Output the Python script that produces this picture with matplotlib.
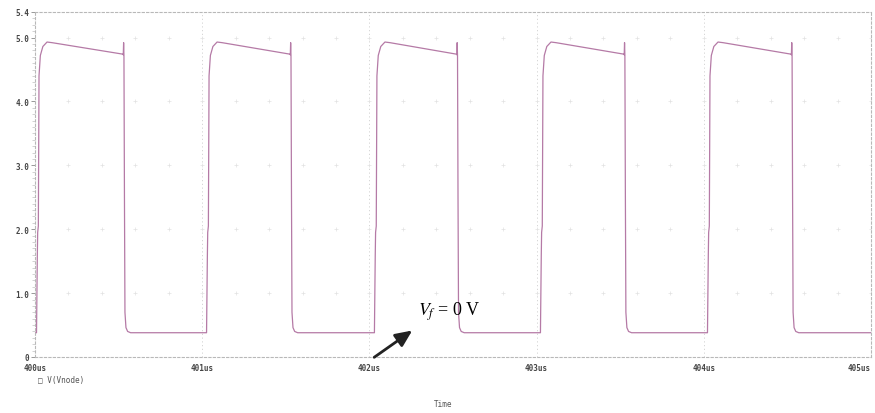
import numpy as np
import matplotlib.pyplot as plt

# pulse edges (us)
rise_times = [400.012, 401.029, 402.033, 403.026, 404.025]
fall_times = [400.532, 401.531, 402.527, 403.528, 404.528]

# shape of one pulse, relative to its rise edge / fall edge
rise_offsets = [-0.003, 0.002, 0.004, 0.008, 0.012, 0.02, 0.035, 0.06, 0.09]
rise_volts = [0.38, 1.6, 1.95, 2.05, 4.4, 4.72, 4.86, 4.93, 4.92]
fall_offsets = [-0.006, -0.004, -0.002, 0.0, 0.003, 0.006, 0.012, 0.022, 0.04]
fall_volts = [4.74, 4.73, 4.92, 4.72, 2.5, 0.7, 0.46, 0.40, 0.38]
t_start, t_end = 400.0, 405.0
low_level = 0.38

y_ticks = [0, 1.0, 2.0, 3.0, 4.0, 5.0, 5.4]
y_labels = ["0", "1.0", "2.0", "3.0", "4.0", "5.0", "5.4"]
x_ticks = [400, 401, 402, 403, 404, 405]
x_labels = ["400us", "401us", "402us", "403us", "404us", "405us"]

# build the trace
t = [t_start]
v = [low_level]
for tr, tf in zip(rise_times, fall_times):
    t += [tr + o for o in rise_offsets]
    v += rise_volts
    t += [tf + o for o in fall_offsets]
    v += fall_volts
t.append(t_end)
v.append(low_level)

fig = plt.figure(figsize=(8.75, 4.14), dpi=100)
ax = fig.add_axes([35 / 875, 56 / 414, 836 / 875, 345 / 414])

ax.plot(t, v, color="#b57aa6", lw=0.9)

ax.set_xlim(t_start, t_end)
ax.set_ylim(0, 5.4)

grid_col = "#b8b8b8"
for s in ax.spines.values():
    s.set_linestyle((0, (2, 2)))
    s.set_color(grid_col)
    s.set_linewidth(0.8)

# vertical dotted lines at every us
for xt in x_ticks[1:-1]:
    ax.axvline(xt, color="#d0d0d0", lw=0.6, ls=(0, (1.5, 3)), zorder=0)

# faint grid marks
gx = np.arange(400.2, 405.0, 0.2)
gy = np.array([1.0, 2.0, 3.0, 4.0, 5.0])
GX, GY = np.meshgrid(gx, gy)
ax.plot(GX.ravel(), GY.ravel(), ls="none", marker="+", ms=3, mew=0.5,
        color="#e2e2e2", zorder=0)

ax.set_yticks(y_ticks)
ax.set_yticklabels(y_labels)
ax.set_yticks(np.arange(0, 5.4, 0.1), minor=True)
ax.tick_params(axis="y", which="major", length=3, width=0.6, color="#888888",
               labelsize=5.5, labelcolor="#444444", pad=1)
ax.tick_params(axis="y", which="minor", length=2, width=0.5, color="#c0c0c0")
ax.set_xticks(x_ticks)
ax.set_xticklabels(x_labels)
ax.tick_params(axis="x", length=0, labelsize=5.5, labelcolor="#444444", pad=4)
for lab in ax.get_xticklabels() + ax.get_yticklabels():
    lab.set_family("DejaVu Sans Mono")
    lab.set_fontweight("bold")
ax.get_xticklabels()[-1].set_horizontalalignment("right")

fig.text(38 / 875, 1 - 381 / 414, "\u25a1 V(Vnode)", fontsize=5.5,
         family="DejaVu Sans Mono", color="#555555", va="center")
fig.text(443 / 875, 1 - 405 / 414, "Time", fontsize=5.5,
         family="DejaVu Sans Mono", color="#555555", va="center", ha="center")

ax.annotate("", xy=(402.27, 0.44), xytext=(402.015, -0.03),
            arrowprops=dict(arrowstyle="-|>,head_length=1.0,head_width=0.45",
                            color="#222222", lw=2), annotation_clip=False)
ax.text(402.29, 0.72, r"$V_f$ = 0 V", fontsize=13, family="Liberation Serif",
        va="center", ha="left", math_fontfamily="stix")

fig.savefig("out.png", dpi=100, facecolor="white")
